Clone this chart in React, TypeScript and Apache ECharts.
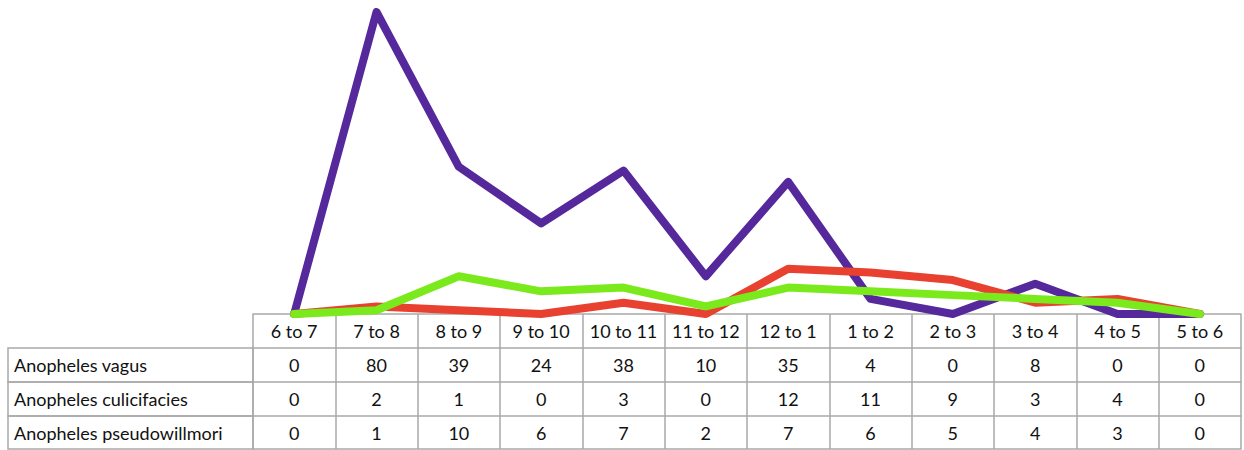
import React, { useEffect, useRef } from "react";
import * as echarts from "echarts";

const categories = ["6 to 7", "7 to 8", "8 to 9", "9 to 10", "10 to 11", "11 to 12", "12 to 1", "1 to 2", "2 to 3", "3 to 4", "4 to 5", "5 to 6"];
const seriesNames = ["Anopheles vagus", "Anopheles culicifacies", "Anopheles pseudowillmori"];
const vagus = [0, 80, 39, 24, 38, 10, 35, 4, 0, 8, 0, 0];
const culicifacies = [0, 2, 1, 0, 3, 0, 12, 11, 9, 3, 4, 0];
const pseudowillmori = [0, 1, 10, 6, 7, 2, 7, 6, 5, 4, 3, 0];
const seriesData = [vagus, culicifacies, pseudowillmori];
const colors = ["#55289b", "#e8412f", "#7aea1c"];

const GRAY = "#a9a9a9";
const FONT = "Lato";
const FONT_SIZE = 18;
const ROW = 34;
const TABLE_TOP = 314;
const LEFT = 253;
const LABEL_LEFT = 8;

export default function App() {
  const ref = useRef<HTMLDivElement>(null);
  useEffect(() => {
    document.body.style.margin = "0";
    const chart = echarts.init(ref.current!, null, { renderer: "svg" });
    const baseAxis = (offset: number, tickLen: number, formatter?: (v: string, i: number) => string) => ({
      type: "category",
      data: categories,
      gridIndex: 0,
      position: "bottom",
      offset,
      boundaryGap: true,
      axisLine: { show: true, lineStyle: { color: GRAY, width: 1.5 } },
      axisTick: { show: tickLen > 0, length: tickLen, interval: 0, inside: false, lineStyle: { color: GRAY, width: 1.5 } },
      axisLabel: {
        show: !!formatter || offset === 0,
        interval: 0,
        margin: 8,
        fontSize: FONT_SIZE,
        color: "#111",
        fontFamily: FONT,
        formatter: formatter,
      },
      splitLine: { show: false },
    });
    const xAxes: any[] = [baseAxis(0, ROW)];
    seriesData.forEach((row, r) => {
      xAxes.push(baseAxis(ROW * (r + 1), r === 2 ? ROW - 1 : ROW, (_v: string, i: number) => String(row[i])));
    });
    const last = baseAxis(ROW * 4 - 1, 0);
    last.axisLabel.show = false;
    xAxes.push(last);

    const graphics: any[] = [];
    seriesNames.forEach((name, r) => {
      const y = TABLE_TOP + ROW * (r + 1);
      graphics.push({
        type: "rect",
        shape: { x: LABEL_LEFT, y, width: LEFT - LABEL_LEFT, height: r === 2 ? ROW - 1 : ROW },
        style: { fill: "none", stroke: GRAY, lineWidth: 1.5 },
        silent: true,
      });
      graphics.push({
        type: "text",
        x: LABEL_LEFT + 6,
        y: y + ROW / 2,
        style: { text: name, fontSize: FONT_SIZE, fontFamily: FONT, fill: "#111", verticalAlign: "middle", align: "left" },
        silent: true,
      });
    });

    chart.setOption({
      animation: false,
      grid: { left: LEFT, right: 3, top: 12, bottom: 450 - TABLE_TOP, containLabel: false },
      xAxis: xAxes,
      yAxis: { type: "value", min: 0, max: 80, show: false, splitLine: { show: false } },
      graphic: graphics,
      series: seriesData.map((d, i) => ({
        name: seriesNames[i],
        type: "line",
        xAxisIndex: 0,
        data: d,
        symbol: "none",
        lineStyle: { color: colors[i], width: 8, join: "round", cap: "round" },
        itemStyle: { color: colors[i] },
        z: 2 + i,
      })),
    });
    return () => chart.dispose();
  }, []);
  return <div ref={ref} style={{ width: 1244, height: 450 }} />;
}
